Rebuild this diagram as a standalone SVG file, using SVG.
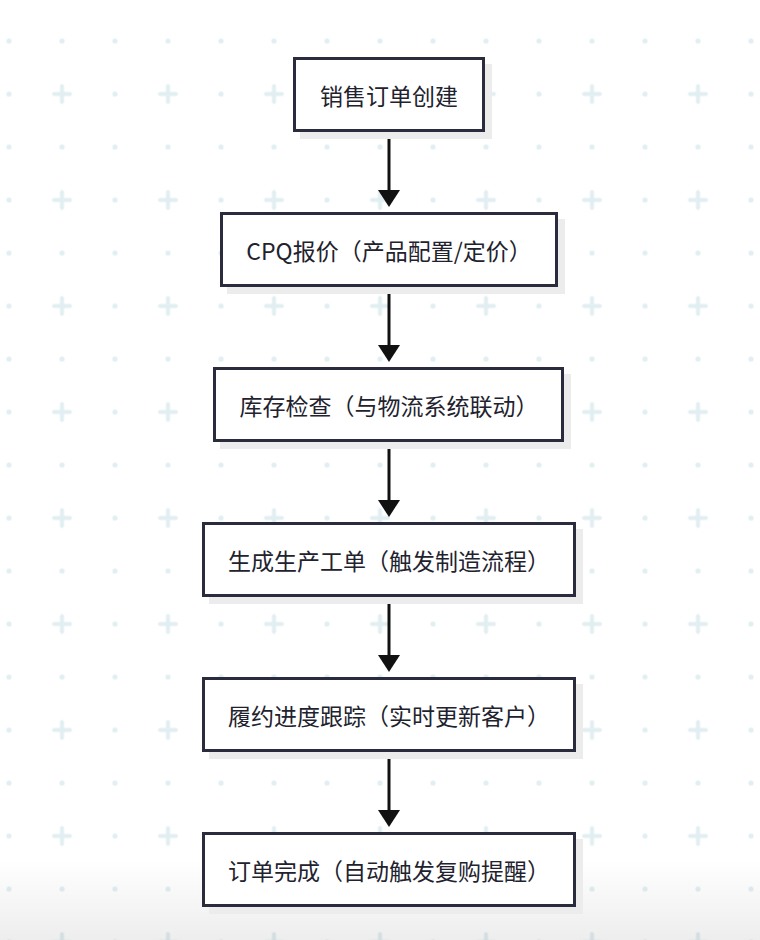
<svg xmlns="http://www.w3.org/2000/svg" width="760" height="940" viewBox="0 0 760 940">
<defs>
<pattern id="grid" patternUnits="userSpaceOnUse" x="-17.5" y="14.5" width="106" height="106">
<circle cx="26.5" cy="26.5" r="2.6" fill="#e1eef2"/>
<circle cx="79.5" cy="26.5" r="2.6" fill="#e1eef2"/>
<circle cx="26.5" cy="79.5" r="2.6" fill="#e1eef2"/>
<path d="M71.5,79.5 H87.5 M79.5,71.5 V87.5" stroke="#e1eef2" stroke-width="4" stroke-linecap="round" fill="none"/>
</pattern>
<linearGradient id="fade" x1="0" y1="0" x2="0" y2="1">
<stop offset="0" stop-color="#000" stop-opacity="0"/>
<stop offset="1" stop-color="#000" stop-opacity="0.07"/>
</linearGradient>
<marker id="arrow" viewBox="0 0 17 22" refX="10" refY="11" markerWidth="17" markerHeight="22" markerUnits="userSpaceOnUse" orient="auto">
<path d="M0,0 L17,11 L0,22 Z" fill="#111"/>
</marker>
<style>
.shadow{fill:#ececec}
.box{fill:#ffffff;stroke:#2b2b3e;stroke-width:3}
.label{font-family:"Noto Sans CJK SC","Noto Sans",sans-serif;font-size:23px;fill:#22222e;text-anchor:middle;dominant-baseline:central}
.conn{stroke:#111;stroke-width:3;fill:none;marker-end:url(#arrow)}
</style>
</defs>
<rect width="760" height="940" fill="#ffffff"/>
<rect width="760" height="940" fill="url(#grid)"/>
<rect x="0" y="860" width="760" height="80" fill="url(#fade)"/>
<g id="connectors">
<line class="conn" x1="389" y1="132" x2="389" y2="200"/>
<line class="conn" x1="389" y1="287" x2="389" y2="355"/>
<line class="conn" x1="389" y1="442" x2="389" y2="510"/>
<line class="conn" x1="389" y1="597" x2="389" y2="665"/>
<line class="conn" x1="389" y1="752" x2="389" y2="820"/>
</g>
<g id="n1">
<rect class="shadow" x="300" y="64" width="192" height="75"/>
<rect class="box" x="294.5" y="58.5" width="189" height="72"/>
<text class="label" x="389" y="94.5">销售订单创建</text>
</g>
<g id="n2">
<rect class="shadow" x="227" y="219" width="338" height="75"/>
<rect class="box" x="221.5" y="213.5" width="335" height="72"/>
<text class="label" x="389" y="249.5">CPQ报价（产品配置/定价）</text>
</g>
<g id="n3">
<rect class="shadow" x="220" y="374" width="351" height="75"/>
<rect class="box" x="214.5" y="368.5" width="348" height="72"/>
<text class="label" x="389" y="404.5">库存检查（与物流系统联动）</text>
</g>
<g id="n4">
<rect class="shadow" x="209" y="529" width="374" height="75"/>
<rect class="box" x="203.5" y="523.5" width="371" height="72"/>
<text class="label" x="389" y="559.5">生成生产工单（触发制造流程）</text>
</g>
<g id="n5">
<rect class="shadow" x="209" y="684" width="374" height="75"/>
<rect class="box" x="203.5" y="678.5" width="371" height="72"/>
<text class="label" x="389" y="714.5">履约进度跟踪（实时更新客户）</text>
</g>
<g id="n6">
<rect class="shadow" x="209" y="839" width="374" height="75"/>
<rect class="box" x="203.5" y="833.5" width="371" height="72"/>
<text class="label" x="389" y="869.5">订单完成（自动触发复购提醒）</text>
</g>
</svg>
